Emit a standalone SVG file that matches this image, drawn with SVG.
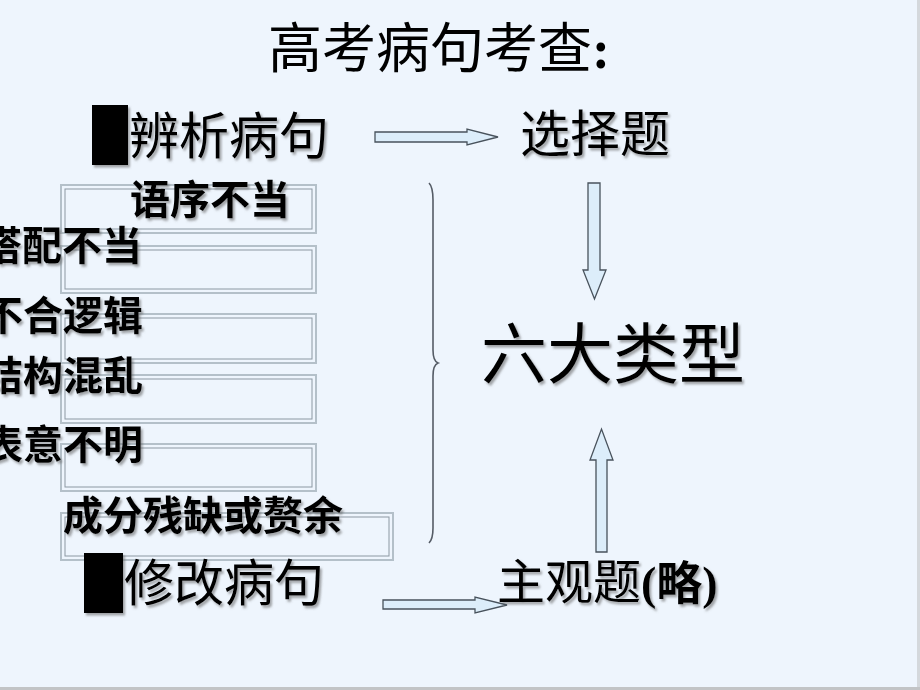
<svg xmlns="http://www.w3.org/2000/svg" width="920" height="690" viewBox="0 0 920 690">
<style>
.cjk{font-family:"Noto Sans CJK SC","Noto Sans CJK TC",sans-serif;fill:#000}
.big{font-size:50px}
.lbl{font-size:40px;font-weight:700}
.box{fill:none;stroke:#b4c0c9;stroke-width:2}
.boxin{fill:none;stroke:#8c98a2;stroke-width:1}
.arrow{fill:#dcedfa;stroke:#48525c;stroke-width:1.3;stroke-linejoin:miter}
.brace{fill:none;stroke:#555c66;stroke-width:1.6}
</style>
<defs>
<filter id="sh" x="-10%" y="-10%" width="130%" height="140%">
<feDropShadow dx="2" dy="2.5" stdDeviation="1.2" flood-color="#606060" flood-opacity="0.55"/>
</filter>
</defs>
<rect x="0" y="0" width="920" height="690" fill="#eef5fd"/>
<rect x="917" y="0" width="3" height="690" fill="#d4d8dc"/>
<rect x="0" y="687" width="920" height="3" fill="#c2c4c6"/>

<g id="title">
<text class="cjk" x="268" y="68" font-size="54">高考病句考查<tspan font-family="Liberation Serif,serif" font-weight="700">:</tspan></text>
</g>

<g id="boxes">
<rect class="box" x="61" y="185" width="255" height="48"/><rect class="boxin" x="65" y="189" width="247" height="40"/>
<rect class="box" x="61" y="246" width="255" height="47"/><rect class="boxin" x="65" y="250" width="247" height="39"/>
<rect class="box" x="61" y="314" width="255" height="49"/><rect class="boxin" x="65" y="318" width="247" height="41"/>
<rect class="box" x="61" y="375" width="255" height="48"/><rect class="boxin" x="65" y="379" width="247" height="40"/>
<rect class="box" x="61" y="444" width="255" height="47"/><rect class="boxin" x="65" y="448" width="247" height="39"/>
<rect class="box" x="61" y="513" width="332" height="47"/><rect class="boxin" x="65" y="517" width="324" height="39"/>
</g>

<g id="node-bianxi" filter="url(#sh)">
<rect x="92" y="105" width="36" height="60" fill="#000"/>
<text class="cjk big" x="129" y="154">辨析病句</text>
</g>

<g id="node-xuanze" filter="url(#sh)">
<text class="cjk big" x="520" y="152">选择题</text>
</g>

<g id="node-liuda" filter="url(#sh)">
<text class="cjk" x="481" y="378" font-size="66">六大类型</text>
</g>

<g id="node-zhuguan" filter="url(#sh)">
<text class="cjk" x="497" y="599" font-size="48">主观题<tspan font-family="Liberation Serif,Noto Sans CJK SC,serif" font-weight="700" font-size="46">(略)</tspan></text>
</g>

<g id="node-xiugai" filter="url(#sh)">
<rect x="84" y="553" width="39" height="60" fill="#000"/>
<text class="cjk big" x="124" y="601">修改病句</text>
</g>

<g id="labels" filter="url(#sh)">
<text class="cjk lbl" x="130" y="214">语序不当</text>
<text class="cjk lbl" x="142" y="260" text-anchor="end">搭配不当</text>
<text class="cjk lbl" x="143" y="330" text-anchor="end">不合逻辑</text>
<text class="cjk lbl" x="143" y="390" text-anchor="end">结构混乱</text>
<text class="cjk lbl" x="143" y="459" text-anchor="end">表意不明</text>
<text class="cjk lbl" x="63" y="530">成分残缺或赘余</text>
</g>

<g id="connectors">
<polygon class="arrow" points="375,132 467,132 467,129 498,137 467,145 467,142 375,142"/>
<polygon class="arrow" points="588,183 600,183 600,270 606,270 594.5,299 583,270 588,270"/>
<polygon class="arrow" points="596,552 607,552 607,460 613,460 601.5,429 590,460 596,460"/>
<polygon class="arrow" points="383,600 475,600 475,597 507,605 475,613 475,609 383,609"/>
<path class="brace" d="M429,183 Q433,187 433,200 L433,350 Q433,361 438,363 Q433,365 433,376 L433,528 Q433,539 429,543"/>
</g>
</svg>
